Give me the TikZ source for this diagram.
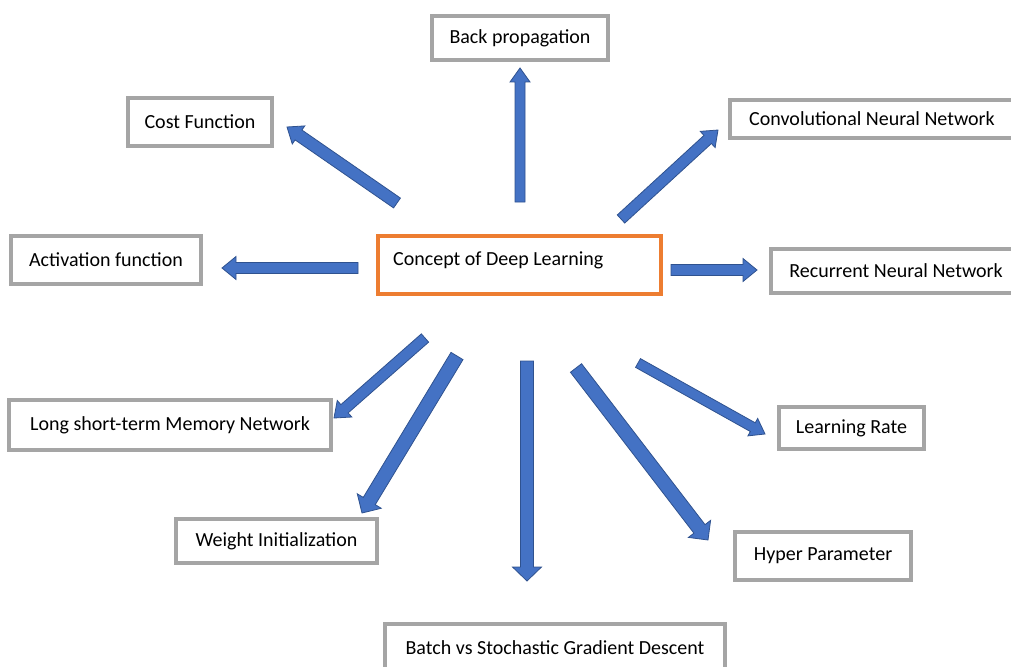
\documentclass[tikz,border=0pt]{standalone}
\usepackage{fontspec}
\setmainfont{Carlito}
\usetikzlibrary{calc}
\definecolor{boxgray}{HTML}{A5A5A5}
\definecolor{deeporange}{HTML}{ED7D31}
\definecolor{arrowblue}{HTML}{4472C4}
\definecolor{arrowedge}{HTML}{2F528F}
% block arrow: tail, tip, half shaft width, half head width
\newcommand{\bigarrow}[4]{%
	\coordinate (hb) at ($(#2)!14pt!(#1)$);
	\draw[blockarrow] ($(#1)!#3!90:(#2)$)--($(hb)!#3!90:(#2)$)--($(hb)!#4!90:(#2)$)--(#2)
		--($(hb)!#4!-90:(#2)$)--($(hb)!#3!-90:(#2)$)--($(#1)!#3!-90:(#2)$)--cycle;}
\begin{document}
\begin{tikzpicture}[x=1pt, y=-1pt, font=\fontsize{20}{24}\selectfont, line join=miter,
		graybox/.style={draw=boxgray, line width=4pt, inner sep=0pt},
		mainbox/.style={draw=deeporange, line width=4pt, inner sep=0pt},
		blockarrow/.style={fill=arrowblue, draw=arrowedge, line width=.8pt}]
	\useasboundingbox (0,0) rectangle (1011,666);
	% boxes
	\node[mainbox, minimum width=283, minimum height=58] (concept) at (519.5,265) {};
	\node[anchor=west, inner sep=0pt] (concepttxt) at (393,260) {Concept of Deep Learning};
	\node[graybox, minimum width=176, minimum height=44] (back) at (520,38) {Back propagation};
	\node[graybox, minimum width=144, minimum height=48] (cost) at (200,122) {Cost Function};
	\node[graybox, minimum width=284, minimum height=38] (cnn) at (872,119) {Convolutional Neural Network};
	\node[graybox, minimum width=190, minimum height=48] (act) at (106,260) {Activation function};
	\node[graybox, minimum width=250, minimum height=44] (rnn) at (896,271) {Recurrent Neural Network};
	\node[graybox, minimum width=322, minimum height=50] (lstm) at (170,425) {Long short-term Memory Network};
	\node[graybox, minimum width=145, minimum height=42] (lr) at (851.5,428) {Learning Rate};
	\node[graybox, minimum width=201, minimum height=44] (weight) at (276.5,541) {Weight Initialization};
	\node[graybox, minimum width=176, minimum height=48] (hyper) at (823,556) {Hyper Parameter};
	\node[graybox, minimum width=340, minimum height=48] (batch) at (555,648) {Batch vs Stochastic Gradient Descent};
	% arrow ends
	\coordinate (cost0) at (397,203); \coordinate (cost1) at (287,127);
	\coordinate (back0) at (520,202); \coordinate (back1) at (520,68);
	\coordinate (cnn0) at (621,219); \coordinate (cnn1) at (718,130);
	\coordinate (act0) at (358,268); \coordinate (act1) at (222,268);
	\coordinate (rnn0) at (671,270); \coordinate (rnn1) at (757,270);
	\coordinate (lstm0) at (425,338); \coordinate (lstm1) at (334,418);
	\coordinate (weight0) at (457,356); \coordinate (weight1) at (362,513);
	\coordinate (batch0) at (527,361); \coordinate (batch1) at (527,581);
	\coordinate (hyper0) at (576,368); \coordinate (hyper1) at (708,540);
	\coordinate (lr0) at (638,363); \coordinate (lr1) at (765,434);
	\foreach \n/\s/\h in {cost/6pt/11pt, back/5pt/10pt, cnn/5.5pt/11pt, act/5.5pt/11.5pt, rnn/5.5pt/11.5pt,
		lstm/5.5pt/11pt, weight/7pt/14pt, batch/6.5pt/14.5pt, hyper/7pt/14pt, lr/5pt/10pt}
		\bigarrow{\n0}{\n1}{\s}{\h};
\end{tikzpicture}
\end{document}
